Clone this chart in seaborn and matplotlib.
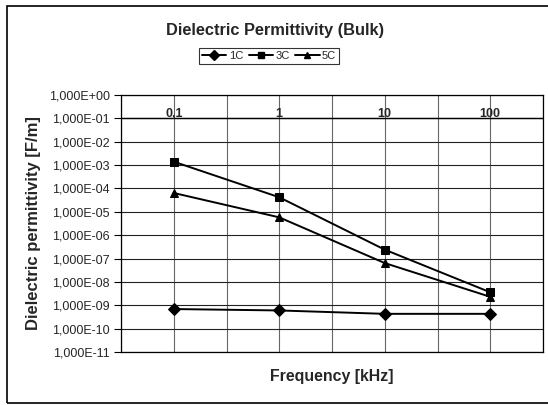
"""
Dielectric permittivity (bulk) vs frequency, Excel-style log chart.
"""
import numpy as np
import pandas as pd
import matplotlib
matplotlib.use("Agg")
import matplotlib.pyplot as plt
from matplotlib.patches import Rectangle
from matplotlib.ticker import FixedLocator, FuncFormatter
import seaborn as sns

# -- Data --
freq_labels = ["0,1", "1", "10", "100"]
series_names = ["1C", "3C", "5C"]
perm_1c = [6.9e-10, 6.0e-10, 4.3e-10, 4.3e-10]
perm_3c = [1.4e-3, 4.2e-5, 2.4e-7, 3.6e-9]
perm_5c = [6.4e-5, 5.8e-6, 6.4e-8, 2.3e-9]
y_decades = list(range(0, -12, -1))

rows = []
for name, vals in zip(series_names, [perm_1c, perm_3c, perm_5c]):
    for i, v in enumerate(vals):
        rows.append({"freq": i, "perm": v, "series": name})
df = pd.DataFrame(rows)

sns.set_theme(style="white")
plt.rcParams["font.family"] = ["Liberation Sans", "DejaVu Sans"]

fig = plt.figure(figsize=(5.48, 4.05), dpi=100)
ax = fig.add_axes([121 / 548, 1 - 352 / 405, 422 / 548, 257 / 405])

sns.lineplot(
    data=df, x="freq", y="perm", hue="series", style="series",
    palette=["black"] * 3, markers={"1C": "D", "3C": "s", "5C": "^"},
    dashes=False, markersize=6, linewidth=1.4, markeredgecolor="black",
    ax=ax, legend=False,
)

ax.set_yscale("log")
ax.set_ylim(1e-11, 1e0)
ax.set_xlim(-0.5, len(freq_labels) - 0.5)

# y ticks: one per decade, Excel-like labels
ax.yaxis.set_major_locator(FixedLocator([10.0 ** d for d in y_decades]))
ax.yaxis.set_minor_locator(FixedLocator([]))


def excel_fmt(v, pos):
    exp = int(round(np.log10(v)))
    sign = "+" if exp >= 0 else "-"
    return f"1,000E{sign}{abs(exp):02d}"


ax.yaxis.set_major_formatter(FuncFormatter(excel_fmt))
ax.tick_params(axis="y", which="major", left=True, length=5, width=0.8,
               color="black", labelsize=9, pad=3)

# x: gridlines at categories and category boundaries, labels drawn on the 0.1 line
ax.set_xticks(range(len(freq_labels)))
ax.set_xticks(np.arange(-0.5, len(freq_labels), 1.0), minor=True)
ax.tick_params(axis="x", which="both", bottom=False, labelbottom=False)
ax.grid(True, axis="y", which="major", color="#222222", linewidth=0.8)
ax.grid(True, axis="x", which="both", color="#666666", linewidth=0.8)
ax.axhline(0.1, color="black", linewidth=1.0)
for i, lab in enumerate(freq_labels):
    ax.annotate(lab, (i, 0.1), xytext=(0, 3.5), textcoords="offset points",
                ha="center", va="center", fontsize=9, fontweight="bold")

for s in ax.spines.values():
    s.set_color("black")
    s.set_linewidth(0.9)

ax.set_xlabel("")
ax.set_ylabel("Dielectric permittivity [F/m]", fontsize=12, fontweight="bold",
              labelpad=6)
fig.text(332 / 548, 1 - 377 / 405, "Frequency [kHz]",
         ha="center", va="center", fontsize=11.4, fontweight="bold")
fig.text(275 / 548, 1 - 30 / 405, "Dielectric Permittivity (Bulk)",
         ha="center", va="center", fontsize=11.8, fontweight="bold")

# legend
handles = [plt.Line2D([], [], color="black", marker=m, markersize=5, linewidth=1.4)
           for m in ["D", "s", "^"]]
leg = fig.legend(handles, series_names, loc="center", ncol=3,
                 bbox_to_anchor=(269 / 548, 1 - 56 / 405), fontsize=8,
                 frameon=True, fancybox=False, edgecolor="black",
                 handlelength=2.2, handletextpad=0.2, columnspacing=0.5,
                 borderpad=0.3, borderaxespad=0)
leg.get_frame().set_linewidth(0.8)

# outer chart border (right edge runs off the picture)
fig.patches.append(Rectangle((7 / 548, 2 / 405), 545 / 548, 397 / 405,
                             transform=fig.transFigure, fill=False,
                             edgecolor="black", linewidth=1.2))

fig.savefig("out.png", dpi=100)
